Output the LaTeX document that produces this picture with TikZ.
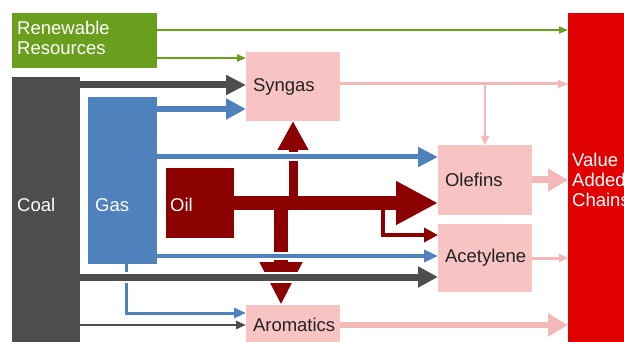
\documentclass[tikz,border=0pt]{standalone}
\usepackage{fontspec}
\setmainfont{Liberation Sans}
\usetikzlibrary{arrows.meta}
\definecolor{renewgreen}{HTML}{6A9F1E}
\definecolor{coalgray}{HTML}{4D4D4D}
\definecolor{gasblue}{HTML}{4F81BD}
\definecolor{oilred}{HTML}{8B0000}
\definecolor{valuered}{HTML}{E00000}
\definecolor{chempink}{HTML}{F8C3C3}
\definecolor{flowpink}{HTML}{F5B8B8}
\definecolor{chemtext}{HTML}{222222}
\begin{document}
\begin{tikzpicture}[x=1pt, y=-1pt,
  box/.style={anchor=north west, inner sep=0, outer sep=0},
  chem/.style={box, fill=chempink, text=chemtext, inner xsep=7pt, text width=80pt, align=left, font=\fontsize{18.5}{20}\selectfont},
  lbl/.style={anchor=west, inner sep=0, text=white, align=left, font=\fontsize{18.5}{20}\selectfont},
  arr/.style 2 args={-{Triangle[length=#1, width=#2]}},
  gap/.style={preaction={draw=white, line width=#1, -, shorten >=25pt}}]

\clip (0,0) rectangle (624,342);

\node [box, fill=renewgreen, minimum width=145pt, minimum height=55pt] (renew) at (12,13) {};
\node [box, fill=coalgray, minimum width=68pt, minimum height=270pt] (coal) at (12,77) {};
\node [box, fill=gasblue, minimum width=69pt, minimum height=167pt] (gas) at (88,97) {};
\node [box, fill=oilred, minimum width=68pt, minimum height=70pt] (oil) at (166,168) {};
\node [box, fill=valuered, minimum width=60pt, minimum height=335pt] (value) at (568,13) {};

\node [chem, minimum height=69pt] (syngas) at (246,52) {Syngas};
\node [chem, minimum height=70pt] (olefins) at (438,145) {Olefins};
\node [chem, minimum height=68pt] (acetylene) at (438,224) {Acetylene};
\node [chem, minimum height=40pt] (aromatics) at (246,305) {Aromatics};

\node [lbl] (renewtext) at (17,38) {Renewable\\Resources};
\node [lbl] (coaltext) at (17,205) {Coal};
\node [lbl] (gastext) at (95,205) {Gas};
\node [lbl] (oiltext) at (170,205) {Oil};
\node [lbl] (valuetext) at (572,180) {Value\\Added\\Chains};

\draw [renewgreen, line width=2pt, arr={9pt}{7pt}] (renew.east |- 0,30) -- (value.west |- 0,30);
\draw [renewgreen, line width=2pt, arr={9pt}{7pt}] (renew.east |- 0,58) -- (syngas.west |- 0,58);

\coordinate (up) at (293,199);
\coordinate (down) at (281,205);
\coordinate (fork) at (383,205);

\draw [oilred, line width=14pt, arr={42pt}{41pt}] (oil.east) -- (olefins.west |- oil.east);
\draw [oilred, line width=9pt, arr={29pt}{29pt}] (up) -- (syngas.south);
\draw [oilred, line width=14pt, arr={43pt}{40pt}] (down) -- (down |- aromatics.north);
\draw [oilred, line width=4pt, arr={14pt}{14pt}] (fork) |- (acetylene.west |- 0,235);

\draw [coalgray, line width=7pt, arr={20pt}{19pt}] (coal.east |- 0,85) -- (syngas.west |- 0,85);
\draw [gasblue, line width=6pt, arr={20pt}{20pt}] (gas.east |- 0,109) -- (syngas.west |- 0,109);
\draw [gasblue, line width=5pt, arr={20pt}{19pt}, gap=9pt] (gas.east |- 0,157) -- (olefins.west |- 0,157);
\draw [gasblue, line width=3.5pt, arr={14pt}{12pt}, gap=8pt] (gas.east |- 0,256) -- (acetylene.west |- 0,256);
\draw [gasblue, line width=3pt, arr={12pt}{10pt}] (gas.south -| 126,0) |- (aromatics.west |- 0,313);
\draw [coalgray, line width=7pt, arr={20pt}{20pt}, gap=11pt] (coal.east |- 0,277) -- (acetylene.west |- 0,277);
\draw [coalgray, line width=2.5pt, arr={10pt}{8pt}] (coal.east |- 0,325) -- (aromatics.west |- 0,325);

\draw [flowpink, line width=3pt, arr={10pt}{8pt}] (syngas.east |- 0,84) -- (value.west |- 0,84);
\draw [flowpink, line width=2.5pt, arr={9pt}{8pt}] (olefins.north |- 0,84) -- (olefins.north);
\draw [flowpink, line width=7pt, arr={20pt}{22pt}] (olefins.east) -- (value.west |- olefins.east);
\draw [flowpink, line width=3pt, arr={9pt}{8pt}] (acetylene.east) -- (value.west |- acetylene.east);
\draw [flowpink, line width=6pt, arr={20pt}{22pt}] (aromatics.east) -- (value.west |- aromatics.east);
\end{tikzpicture}
\end{document}
